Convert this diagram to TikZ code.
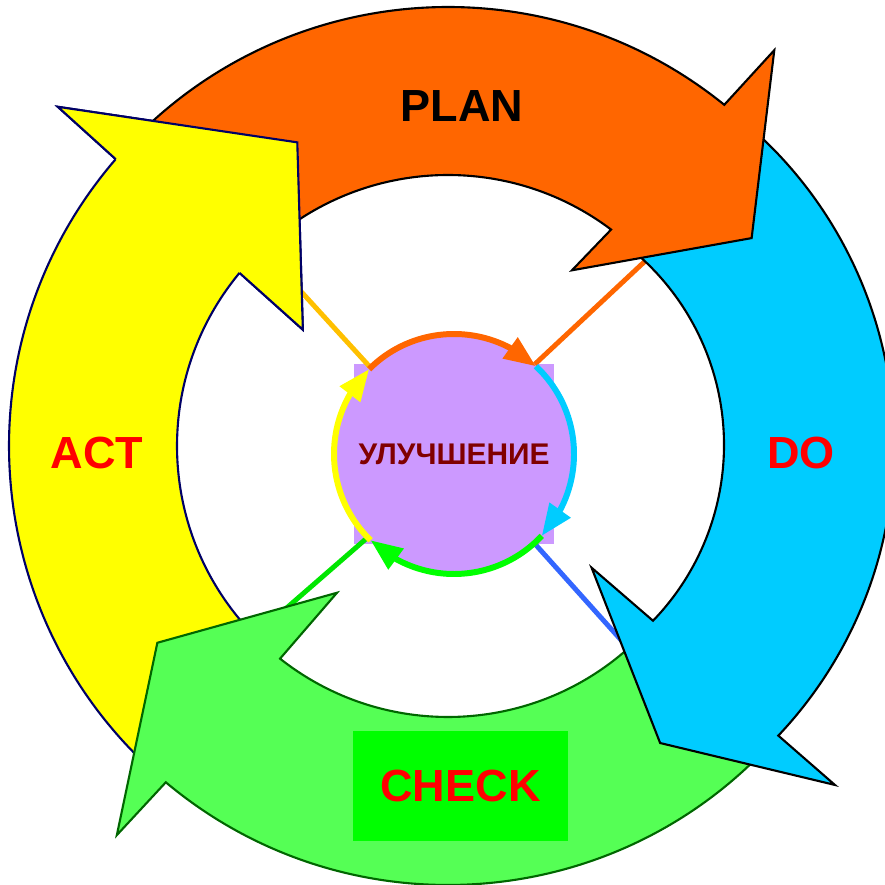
\documentclass[tikz,border=0pt]{standalone}
\usepackage{fontspec}
\setmainfont{Liberation Sans}
\usetikzlibrary{arrows.meta,bending}

\definecolor{planorange}{HTML}{FF6600}
\definecolor{doblue}{HTML}{00CCFF}
\definecolor{checkgreen}{HTML}{55FF55}
\definecolor{boxgreen}{HTML}{00FF00}
\definecolor{actyellow}{HTML}{FFFF00}
\definecolor{hubpurple}{HTML}{CC99FF}
\definecolor{hubtext}{HTML}{800000}
\definecolor{linkgold}{HTML}{FFC000}
\definecolor{linkblue}{HTML}{3366FF}
\definecolor{linkgreen}{HTML}{00E600}
\definecolor{edgenavy}{HTML}{000066}
\definecolor{edgegreen}{HTML}{006600}

\begin{document}
\begin{tikzpicture}[x=0.01cm,y=0.01cm,
  ringedge/.style={line width=0.6pt},
  planarrow/.style={ringedge,fill=planorange,draw=black},
  doarrow/.style={ringedge,fill=doblue,draw=black},
  checkarrow/.style={ringedge,fill=checkgreen,draw=edgegreen},
  actarrow/.style={ringedge,fill=actyellow,draw=edgenavy},
  link/.style={line width=1.4pt},
  ringarc/.style={line width=1.7pt,-{Triangle[length=9pt,width=7pt]}},
  hub/.style={circle,fill=hubpurple,minimum size=2.4cm,inner sep=0pt,
    text=hubtext,font=\fontsize{8.5}{10}\selectfont\bfseries},
  hubbox/.style={fill=hubpurple,minimum width=2cm,minimum height=1.79cm,inner sep=0pt},
  stage/.style={text=red,font=\fontsize{12.8}{15}\selectfont\bfseries}]
\useasboundingbox (0,0) rectangle (884,885);

  % Draw centre
  \node[hubbox] (hubbg) at (454,431) {};
  \node[hub] (hub) at (454,431) {УЛУЧШЕНИЕ};

  % Draw links from the ring to the centre
  \coordinate (planend) at (657,635);
  \coordinate (doend) at (630,235);
  \coordinate (checkend) at (282,273);
  \coordinate (actend) at (296,599);
  \foreach \ang/\pt/\col in {48/planend/planorange,-48/doend/linkblue,
                             224/checkend/linkgreen,134/actend/linkgold}
    \draw[link,\col] (hub.\ang) -- (\pt);

  % Draw ring arrows
  \begin{scope}[shift={(448,439)}]
    % ACT
    \filldraw[actarrow] (228:439) arc[start angle=228,end angle=139.2,radius=439]
      -- (139:517) -- (116.4:339) -- (141.3:186) -- (140.3:271)
      arc[start angle=140.3,end angle=224,radius=271] -- cycle;
    % CHECK
    \filldraw[checkarrow] (-43:439) arc[start angle=-43,end angle=-130,radius=439]
      -- (-130.4:511) -- (-145.9:351) -- (-127.1:184) -- (-128.3:271)
      arc[start angle=-128.3,end angle=-45,radius=271] -- cycle;
  \end{scope}
  \begin{scope}[shift={(471,440)}]
    % DO
    \filldraw[doarrow] (50:423) arc[start angle=50,end angle=-43.4,radius=423]
      -- (-43.05:498) -- (-57.6:353) -- (-45.5:172) -- (-44:253)
      arc[start angle=-44,end angle=50,radius=253] -- cycle;
  \end{scope}
  \begin{scope}[shift={(448,439)}]
    % PLAN
    \filldraw[planarrow] (136:439) arc[start angle=136,end angle=51,radius=439]
      -- (50.5:513) -- (34.4:368) -- (54.8:215) -- (53:271)
      arc[start angle=53,end angle=128,radius=271] -- cycle;
    % ACT head again, over the PLAN tail
    \fill[actyellow] (139.2:439) -- (139:517) -- (116.4:339) -- (141.3:186) -- (140.3:271) -- cycle;
    \draw[ringedge,edgenavy] (139.2:439) -- (139:517) -- (116.4:339) -- (141.3:186) -- (140.3:271);
  \end{scope}

  % Draw small arrows round the centre
  \foreach \a/\b/\col in {135/47/planorange,47/-43/doblue,-43/-134/boxgreen,226/135/actyellow}
    \draw[ringarc,\col] (hub.center) ++(\a:120) arc[start angle=\a,end angle=\b,radius=120];

  % Draw stage labels
  \node[stage,text=black] (plan) at (462,779) {PLAN};
  \node[stage] (do) at (801,432) {DO};
  \node[stage] (act) at (97,432) {ACT};
  \node[stage,fill=boxgreen,minimum width=2.15cm,minimum height=1.1cm] (check) at (460.5,99) {CHECK};
\end{tikzpicture}
\end{document}
